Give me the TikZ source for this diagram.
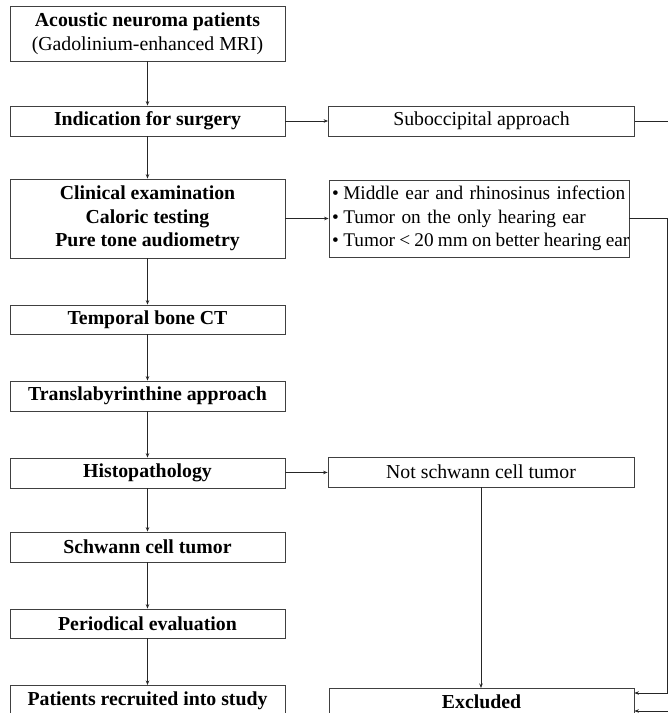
\documentclass[tikz,border=0pt]{standalone}
\usepackage{fontspec}
\setmainfont{Liberation Serif}
\usetikzlibrary{arrows.meta}
\tikzset{
  lbox/.style={draw=black!75, line width=0.8pt, minimum width=275pt, inner sep=0pt, align=center, font=\fontsize{19.8}{23.7}\selectfont\bfseries},
  rbox/.style={draw=black!75, line width=0.8pt, minimum width=306pt, inner sep=0pt, align=center, font=\fontsize{19.8}{23.7}\selectfont},
  arr/.style={draw=black!85, line width=0.7pt, -{Stealth[length=4.5pt,width=3.5pt]}},
}
\begin{document}
\begin{tikzpicture}[x=1pt,y=-1pt]
\useasboundingbox (0,0) rectangle (668,713);
\clip (0,0) rectangle (668,713);
\node[lbox, minimum height=55pt] (b1) at (147.5,33.5) {Acoustic neuroma patients\\\mdseries(Gadolinium-enhanced MRI)};
\node[lbox, minimum height=30pt] (b2) at (147.5,121) {Indication for surgery};
\node[lbox, minimum height=79pt] (b3) at (147.5,218.5) {Clinical examination\\Caloric testing\\Pure tone audiometry};
\node[lbox, minimum height=29pt] (b4) at (147.5,319.5) {Temporal bone CT};
\node[lbox, minimum height=30pt] (b5) at (147.5,396) {Translabyrinthine approach};
\node[lbox, minimum height=30pt] (b6) at (147.5,473) {Histopathology};
\node[lbox, minimum height=30pt] (b7) at (147.5,547) {Schwann cell tumor};
\node[lbox, minimum height=29pt] (b8) at (147.5,623.5) {Periodical evaluation};
\node[lbox, minimum height=40pt, anchor=north, text depth=14pt] (b9) at (147.5,685) {Patients recruited into study};

\node[rbox, minimum height=30pt] (r1) at (481.5,121) {Suboccipital approach};
\node[rbox, minimum width=300pt, minimum height=77pt, align=left, text width=294pt, inner xsep=3pt, font=\fontsize{19.3}{23.7}\selectfont] (r2) at (479,218.5)
  {\mbox{\textbullet\hspace{4.5pt}Middle ear and rhinosinus infection}\\\mbox{\textbullet\hspace{4.5pt}Tumor on the only hearing ear}\\\mbox{\spaceskip=4.2pt\textbullet\hspace{4.5pt}Tumor < 20 mm on better hearing ear}};
\node[rbox, minimum height=30pt] (r3) at (481,472) {Not schwann cell tumor};
\node[rbox, minimum width=305pt, minimum height=40pt, anchor=north, text depth=14pt, font=\fontsize{19.8}{23.7}\selectfont\bfseries] (r4) at (481.5,688) {Excluded};

\draw[arr] (b1) -- (b2);
\draw[arr] (b2) -- (b3);
\draw[arr] (b3) -- (b4);
\draw[arr] (b4) -- (b5);
\draw[arr] (b5) -- (b6);
\draw[arr] (b6) -- (b7);
\draw[arr] (b7) -- (b8);
\draw[arr] (b8) -- (b9);

\draw[arr] (b2) -- (r1);
\draw[arr] (b3) -- (b3 -| r2.west);
\draw[arr] (b6) -- (r3);
\draw[arr] (r3.south) -- (r3.south |- r4.north);

\coordinate (c1) at (667,218.5);
\coordinate (c2) at (667,693);
\draw[arr] (r2.east) -- (c1) -- (c2) -- (c2 -| r4.east);
\coordinate (d1) at (690,121);
\coordinate (d2) at (690,711);
\draw[arr] (r1.east) -- (d1) -- (d2) -- (d2 -| r4.east);
\end{tikzpicture}
\end{document}
